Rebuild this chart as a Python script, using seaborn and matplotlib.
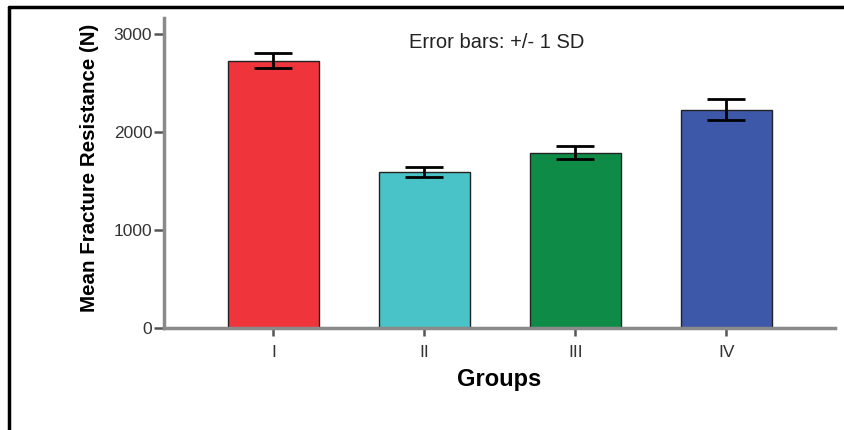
import matplotlib
matplotlib.use("Agg")
import matplotlib.pyplot as plt
import seaborn as sns
import pandas as pd
from matplotlib.lines import Line2D

groups = ["I", "II", "III", "IV"]
means = [2728, 1592, 1790, 2228]
sds = [80, 50, 66, 105]
colors = ["#F0343C", "#49C3C7", "#0F8B48", "#3D58A9"]

sns.set_theme(style="white")
plt.rcParams["font.family"] = ["Liberation Sans", "DejaVu Sans"]

W, H = 845, 430
fig = plt.figure(figsize=(W / 100, H / 100), dpi=100)
x0, x1, ytop, ybot = 164, 835, 18, 328
ax = fig.add_axes([x0 / W, 1 - ybot / H, (x1 - x0) / W, (ybot - ytop) / H])

df = pd.DataFrame({"Groups": groups, "Mean": means})
sns.barplot(data=df, x="Groups", y="Mean", hue="Groups", palette=colors,
            saturation=1, width=0.6, edgecolor="#222222", linewidth=1.0,
            legend=False, ax=ax)
ax.errorbar(range(len(groups)), means, yerr=sds, fmt="none", ecolor="black",
            elinewidth=2, capsize=13.5, capthick=2, zorder=5)

ax.set_xlim(-0.725, 3.72)
ax.set_ylim(0, 3163)
ax.set_yticks([0, 1000, 2000, 3000])
ax.set_yticklabels(["0", "1000", "2000", "3000"])
for s in ["top", "right"]:
    ax.spines[s].set_visible(False)
for s in ["left", "bottom"]:
    ax.spines[s].set_color("#8a8a8a")
    ax.spines[s].set_linewidth(2.5)
ax.tick_params(axis="both", which="both", direction="out", width=1.8,
               color="#555555", labelsize=12.5, labelcolor="#333333",
               left=True, bottom=True)
ax.tick_params(axis="y", length=7, pad=1.5)
ax.tick_params(axis="x", length=6, pad=6)
ax.set_ylabel("Mean Fracture Resistance (N)", fontsize=14.8, fontweight="bold",
              color="black")
ax.yaxis.set_label_coords((99 - x0) / (x1 - x0), (ybot - 167.5) / (ybot - ytop))
ax.set_xlabel("Groups", fontsize=17, fontweight="bold", color="black", labelpad=6)
ax.text(497, H - 43, "Error bars: +/- 1 SD", transform=None, fontsize=14.5,
        color="#222222", ha="center", va="center")

fig.add_artist(Line2D([9 / W, 1.0], [1 - 7 / H, 1 - 7 / H], color="black",
                      linewidth=2.5, transform=fig.transFigure))
fig.add_artist(Line2D([9 / W, 9 / W], [0, 1 - 7 / H], color="black",
                      linewidth=2.5, transform=fig.transFigure))

fig.savefig("out.png", dpi=100)
